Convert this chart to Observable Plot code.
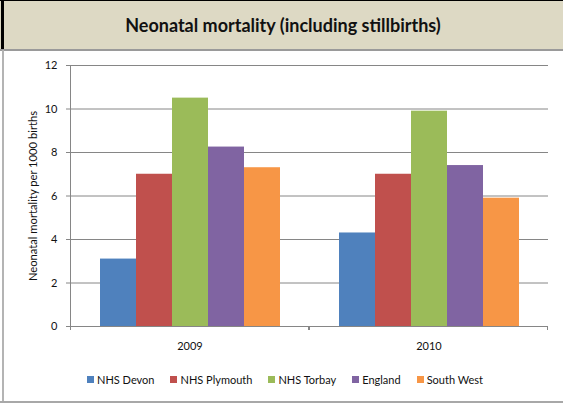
<!DOCTYPE html>
<html>
<head>
<meta charset="utf-8">
<script src="https://cdn.jsdelivr.net/npm/d3@7"></script>
<script src="https://cdn.jsdelivr.net/npm/@observablehq/plot@0.6"></script>
<style>
  html, body { margin: 0; padding: 0; background: #fff; }
  #wrap { position: relative; width: 563px; height: 405px; overflow: hidden; font-family: Lato, "Open Sans", sans-serif; }
  #header { position: absolute; left: 0; top: 0; width: 563px; height: 49px; background: #DDD9C4; }
  #topline { position: absolute; left: 0; top: 0; width: 563px; height: 1px; background: #000; }
  #leftbar { position: absolute; left: 1px; top: 0; width: 3px; height: 49px; background: #000; }
  #hline { position: absolute; left: 0; top: 49px; width: 563px; height: 2px; background: #9a9a9a; }
  #vline { position: absolute; left: 2px; top: 50px; width: 2px; height: 352px; background: #b4b4b4; }
  #bline { position: absolute; left: 0; top: 401px; width: 563px; height: 2px; background: #a8a8a8; }
  #title { position: absolute; left: 0; top: 1px; width: 566px; height: 49px; line-height: 49px; text-align: center; font-weight: bold; font-size: 18px; color: #111; }
  #chart { position: absolute; left: 0; top: 50px; }
  #ylabel { position: absolute; left: 32px; top: 196px; transform: translate(-50%, -50%) rotate(-90deg); white-space: nowrap; font-size: 11.2px; color: #111; }
  #legend { position: absolute; left: 0; top: 373px; width: 570px; display: flex; justify-content: center; font-size: 11px; color: #111; }
  .item { display: flex; align-items: center; margin: 0 8px; }
  .sw { width: 7px; height: 7px; margin-right: 3px; }
</style>
</head>
<body>
<div id="wrap">
  <div id="header"></div>
  <div id="topline"></div>
  <div id="leftbar"></div>
  <div id="title">Neonatal mortality (including stillbirths)</div>
  <div id="hline"></div>
  <div id="vline"></div>
  <div id="bline"></div>
  <div id="chart"></div>
  <div id="ylabel">Neonatal mortality per 1000 births</div>
  <div id="legend"></div>
</div>
<script>
const years = ["2009", "2010"];
const series = ["NHS Devon", "NHS Plymouth", "NHS Torbay", "England", "South West"];
const colors = ["#4F81BD", "#C0504D", "#9BBB59", "#8064A2", "#F79646"];
const values2009 = [3.1, 7.0, 10.5, 8.25, 7.3];
const values2010 = [4.3, 7.0, 9.9, 7.4, 5.9];
const yTicks = [0, 2, 4, 6, 8, 10, 12];

const valuesByYear = {"2009": values2009, "2010": values2010};
const data = years.flatMap(y => series.map((s, i) => ({year: y, series: s, value: valuesByYear[y][i]})));

const axisGray = "#868686";

// y axis line (first facet only)
const yAxisLine = Plot.ruleY([{year: years[0]}], {
  fx: "year", y: () => 0,
  render: (index, scales, values, dims) => {
    const g = d3.create("svg:g");
    if (!index.length) return g.node();
    g.append("line")
      .attr("x1", dims.marginLeft + 0.5).attr("x2", dims.marginLeft + 0.5)
      .attr("y1", scales.y(0)).attr("y2", scales.y(yTicks[yTicks.length - 1]))
      .attr("stroke", axisGray).attr("stroke-width", 1);
    return g.node();
  }
});

// category boundary tick marks under the x axis
const xBoundaryTicks = Plot.ruleY(years.map(y => ({year: y})), {
  fx: "year", y: () => 0,
  render: (index, scales, values, dims) => {
    const g = d3.create("svg:g");
    if (!index.length) return g.node();
    const y0 = scales.y(0);
    for (const xx of [dims.marginLeft + 0.5, dims.width - dims.marginRight - 0.5]) {
      g.append("line").attr("x1", xx).attr("x2", xx).attr("y1", y0).attr("y2", y0 + 4)
        .attr("stroke", axisGray).attr("stroke-width", 1);
    }
    return g.node();
  }
});

const chart = Plot.plot({
  width: 563,
  height: 310,
  marginTop: 15,
  marginBottom: 34,
  marginLeft: 70,
  marginRight: 15,
  style: {fontFamily: "Lato, 'Open Sans', sans-serif", fontSize: "11px", color: "#111", background: "transparent", overflow: "visible"},
  fx: {domain: years, padding: 0, label: null, axis: "bottom", tickSize: 0, tickPadding: 16},
  x: {domain: series, paddingInner: 0, paddingOuter: 0.75, axis: null},
  y: {domain: [0, 12], label: null, axis: null},
  color: {domain: series, range: colors},
  marks: [
    Plot.ruleY(yTicks.filter(t => t > 0), {stroke: axisGray, strokeWidth: 1, strokeOpacity: 1}),
    Plot.barY(data, {fx: "year", x: "series", y: "value", fill: "series", insetLeft: 0, insetRight: 0}),
    Plot.ruleY([0], {stroke: axisGray, strokeWidth: 1.2}),
    yAxisLine,
    xBoundaryTicks,
    Plot.axisY(yTicks, {anchor: "left", tickSize: 4, tickPadding: 9, stroke: axisGray, label: null, fontSize: 11})
  ]
});
document.getElementById("chart").appendChild(chart);

const legend = document.getElementById("legend");
series.forEach((s, i) => {
  const item = document.createElement("div");
  item.className = "item";
  const sw = document.createElement("div");
  sw.className = "sw";
  sw.style.background = colors[i];
  const lab = document.createElement("span");
  lab.textContent = s;
  item.appendChild(sw);
  item.appendChild(lab);
  legend.appendChild(item);
});
</script>
</body>
</html>
